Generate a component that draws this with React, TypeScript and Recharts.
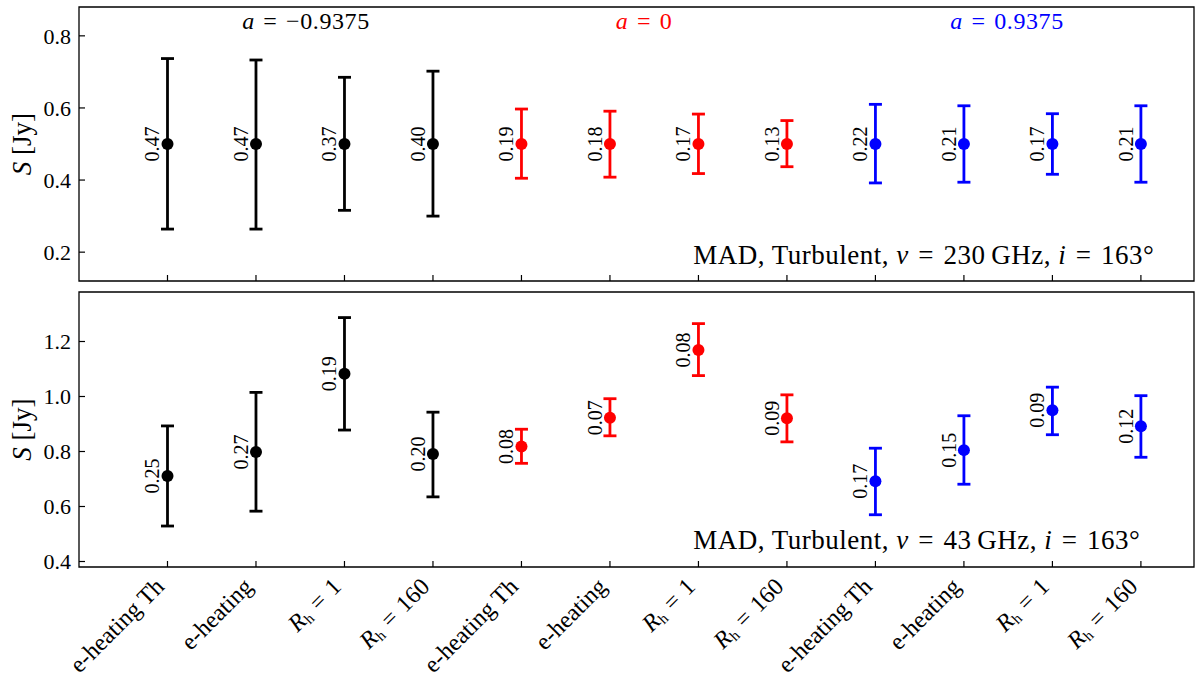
import React from "react"
import { ScatterChart, Scatter, XAxis, YAxis, ErrorBar, ReferenceArea, ReferenceDot } from "recharts"

// x categories (same for both panels, three spin groups of four)
const categories = [
  "e-heating Th", "e-heating", "R_h = 1", "R_h = 160",
  "e-heating Th", "e-heating", "R_h = 1", "R_h = 160",
  "e-heating Th", "e-heating", "R_h = 1", "R_h = 160",
]
const spins = ["\u22120.9375", "0", "0.9375"]
const spinColors = ["#000000", "#ff0000", "#0000ff"]
const spinLabelX = [1.565, 5.385, 9.487]

// top panel: 230 GHz
const topCenter = [0.5, 0.5, 0.5, 0.5, 0.5, 0.5, 0.5, 0.5, 0.5, 0.5, 0.5, 0.5]
const topHi = [0.737, 0.733, 0.685, 0.702, 0.597, 0.591, 0.583, 0.565, 0.61, 0.606, 0.584, 0.606]
const topLo = [0.264, 0.264, 0.316, 0.3, 0.405, 0.408, 0.418, 0.437, 0.392, 0.394, 0.416, 0.394]
const topLabels = ["0.47", "0.47", "0.37", "0.40", "0.19", "0.18", "0.17", "0.13", "0.22", "0.21", "0.17", "0.21"]
const topTicks = [0.2, 0.4, 0.6, 0.8]

// bottom panel: 43 GHz
const botCenter = [0.711, 0.798, 1.083, 0.791, 0.818, 0.923, 1.169, 0.921, 0.692, 0.805, 0.95, 0.892]
const botHi = [0.893, 1.015, 1.287, 0.943, 0.881, 0.992, 1.265, 1.006, 0.812, 0.93, 1.034, 1.003]
const botLo = [0.529, 0.583, 0.878, 0.635, 0.757, 0.857, 1.076, 0.835, 0.57, 0.681, 0.861, 0.779]
const botLabels = ["0.25", "0.27", "0.19", "0.20", "0.08", "0.07", "0.08", "0.09", "0.17", "0.15", "0.09", "0.12"]
const botTicks = [0.4, 0.6, 0.8, 1.0, 1.2]

const FONT = "'Liberation Serif', 'DejaVu Serif', serif"
const X_MIN = -1
const X_MAX = 11.6
const EQ = "\u2004=\u2004"
const xTicks = categories.map((_, i) => i)

function buildGroups(center: number[], lo: number[], hi: number[], labels: string[]) {
  return spins.map((_, g) =>
    [0, 1, 2, 3].map((k) => {
      const i = g * 4 + k
      return { x: i, y: center[i], err: [center[i] - lo[i], hi[i] - center[i]], label: labels[i] }
    })
  )
}

const topGroups = buildGroups(topCenter, topLo, topHi, topLabels)
const botGroups = buildGroups(botCenter, botLo, botHi, botLabels)

const txt = (size: number, extra: any = {}) => ({ fontFamily: FONT, fontSize: size, ...extra })

const makePoint = (color: string) => (props: any) => {
  const { cx, cy, payload } = props
  const tx = cx - 8
  return (
    <g>
      <circle cx={cx} cy={cy} r={6} fill={color} />
      <text x={tx} y={cy} transform={`rotate(-90 ${tx} ${cy})`} textAnchor="middle" style={txt(20)} fill="#000">
        {payload.label}
      </text>
    </g>
  )
}

const YTick = (props: any) => {
  const { x, y, payload } = props
  return (
    <g>
      <line x1={x} x2={x + 6} y1={y} y2={y} stroke="#000" strokeWidth={1.2} />
      <text x={x - 8} y={y} dy="0.35em" textAnchor="end" style={txt(22)} fill="#000">
        {payload.value.toFixed(1)}
      </text>
    </g>
  )
}

const XTickMark = (props: any) => {
  const { x, y } = props
  return <line x1={x} x2={x} y1={y} y2={y - 6} stroke="#000" strokeWidth={1.2} />
}

const XTickLabel = (props: any) => {
  const { x, y, payload } = props
  const name = categories[payload.value]
  const ax = x - 2
  const ay = y + 21
  let content: React.ReactNode = name
  if (name.startsWith("R_h")) {
    content = (
      <>
        <tspan fontStyle="italic">R</tspan>
        <tspan style={{ fontSize: 15 }} dy={3}>h</tspan>
        <tspan dy={-3}>{EQ + name.replace("R_h = ", "")}</tspan>
      </>
    )
  }
  return (
    <g>
      <line x1={x} x2={x} y1={y} y2={y - 6} stroke="#000" strokeWidth={1.2} />
      <text x={ax} y={ay} transform={`rotate(-45 ${ax} ${ay})`} textAnchor="end" style={txt(24)} fill="#000">
        {content}
      </text>
    </g>
  )
}

const YLabel = (props: any) => {
  const vb = props.viewBox
  const x = vb.x + 3
  const y = vb.y + vb.height / 2
  return (
    <text
      x={x}
      y={y}
      transform={`rotate(-90 ${x} ${y})`}
      textAnchor="middle"
      dominantBaseline="central"
      style={txt(27)}
      fill="#000"
    >
      <tspan fontStyle="italic">S</tspan>
      <tspan>{" [Jy]"}</tspan>
    </text>
  )
}

const spinText = (g: number) => (props: any) => (
  <text x={props.cx} y={props.cy} textAnchor="middle" style={txt(24, { letterSpacing: 0.6 })} fill={spinColors[g]}>
    <tspan fontStyle="italic">a</tspan>
    <tspan>{EQ + spins[g]}</tspan>
  </text>
)

const infoText = (freq: string) => (props: any) => (
  <text x={props.cx} y={props.cy} textAnchor="start" style={txt(27, { letterSpacing: 0.5 })} fill="#000">
    <tspan>{"MAD, Turbulent, "}</tspan>
    <tspan fontStyle="italic">{"\u03bd"}</tspan>
    <tspan>{EQ + freq + "\u2009GHz, "}</tspan>
    <tspan fontStyle="italic">i</tspan>
    <tspan>{EQ + "163\u00b0"}</tspan>
  </text>
)

function Panel(props: {
  height: number
  top: number
  xAxisHeight: number
  domain: [number, number]
  ticks: number[]
  groups: any[][]
  freq: string
  infoY: number
  spinY?: number
  showLabels: boolean
}) {
  const { height, top, xAxisHeight, domain, ticks, groups, freq, infoY, spinY, showLabels } = props
  return (
    <div style={{ position: "absolute", left: 0, top }}>
      <ScatterChart width={1200} height={height} margin={{ top: 2, right: 6, bottom: 0, left: 19 }}>
        <XAxis
          type="number"
          dataKey="x"
          domain={[X_MIN, X_MAX]}
          ticks={xTicks}
          interval={0}
          allowDataOverflow
          axisLine={false}
          tickLine={false}
          tickSize={0}
          tickMargin={0}
          height={xAxisHeight}
          tick={showLabels ? <XTickLabel /> : <XTickMark />}
        />
        <YAxis
          type="number"
          dataKey="y"
          domain={domain}
          ticks={ticks}
          interval={0}
          allowDataOverflow
          axisLine={false}
          tickLine={false}
          tickSize={0}
          tickMargin={0}
          width={60}
          tick={<YTick />}
          label={<YLabel />}
        />
        <ReferenceArea
          x1={X_MIN}
          x2={X_MAX}
          y1={domain[0]}
          y2={domain[1]}
          fill="none"
          fillOpacity={0}
          stroke="#000"
          strokeWidth={1.3}
          ifOverflow="visible"
        />
        {spinY !== undefined &&
          spins.map((_, g) => (
            <ReferenceDot key={"s" + g} x={spinLabelX[g]} y={spinY} r={0} shape={spinText(g)} ifOverflow="visible" />
          ))}
        <ReferenceDot x={5.94} y={infoY} r={0} shape={infoText(freq)} ifOverflow="visible" />
        {groups.map((data, g) => (
          <Scatter key={g} data={data} dataKey="y" isAnimationActive={false} shape={makePoint(spinColors[g])}>
            <ErrorBar dataKey="err" direction="y" width={6.5} strokeWidth={2.8} stroke={spinColors[g]} />
          </Scatter>
        ))}
      </ScatterChart>
    </div>
  )
}

export default function App() {
  return (
    <div
      style={{
        position: "absolute",
        left: 0,
        top: 0,
        width: 1200,
        height: 679,
        background: "#fff",
        fontFamily: FONT,
      }}
    >
      <Panel
        height={288}
        top={5}
        xAxisHeight={12}
        domain={[0.12, 0.88]}
        ticks={topTicks}
        groups={topGroups}
        freq="230"
        infoY={0.167}
        spinY={0.819}
        showLabels={false}
      />
      <Panel
        height={389}
        top={290}
        xAxisHeight={112}
        domain={[0.38, 1.38]}
        ticks={botTicks}
        groups={botGroups}
        freq="43"
        infoY={0.445}
        showLabels
      />
    </div>
  )
}
